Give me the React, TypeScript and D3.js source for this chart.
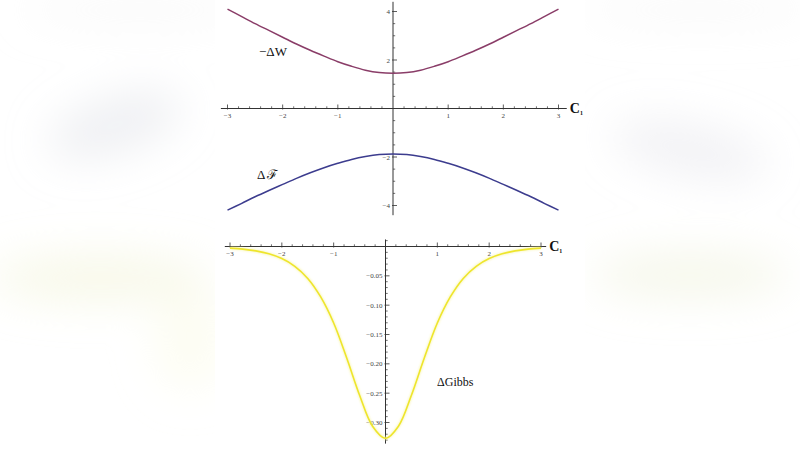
import * as d3 from "d3";

// sample positions for all curves
const cValues = [
  -3, -2.75, -2.5, -2.25, -2, -1.75, -1.5, -1.25, -1, -0.75, -0.5, -0.25, 0,
  0.25, 0.5, 0.75, 1, 1.25, 1.5, 1.75, 2, 2.25, 2.5, 2.75, 3,
];
// -ΔW (upper curve, top panel)
const minusDW = [
  4.1, 3.8, 3.5, 3.22, 2.94, 2.66, 2.4, 2.16, 1.93, 1.74, 1.58, 1.48, 1.45,
  1.48, 1.58, 1.74, 1.93, 2.16, 2.4, 2.66, 2.94, 3.22, 3.5, 3.8, 4.1,
];
// ΔF (lower curve, top panel)
const deltaF = [
  -4.19, -3.92, -3.64, -3.38, -3.13, -2.88, -2.65, -2.44, -2.26, -2.1, -1.98,
  -1.9, -1.88, -1.9, -1.98, -2.1, -2.26, -2.44, -2.65, -2.88, -3.13, -3.38,
  -3.64, -3.92, -4.19,
];
// ΔGibbs (bottom panel)
const deltaGibbs = [
  -0.0027, -0.0045, -0.0075, -0.0125, -0.0206, -0.0337, -0.0544, -0.086,
  -0.1304, -0.1895, -0.2534, -0.3063, -0.327, -0.3063, -0.2534, -0.1895,
  -0.1304, -0.086, -0.0544, -0.0337, -0.0206, -0.0125, -0.0075, -0.0045,
  -0.0027,
];

const topXTicks = [-3, -2, -1, 1, 2, 3];
const topYTicks = [-4, -2, 2, 4];
const botYTicks = [-0.05, -0.1, -0.15, -0.2, -0.25, -0.3];

const W = 800;
const H = 450;
const tickFont = "'Liberation Serif', 'DejaVu Serif', serif";
const axisColor = "#333";

type Pt = [number, number];

function fmt(v: number, digits: number) {
  const s = Math.abs(v).toFixed(digits);
  return (v < 0 ? "\u2212" : "") + s;
}

function XAxis({
  x,
  y0,
  from,
  to,
  labels,
}: {
  x: d3.ScaleLinear<number, number>;
  y0: number;
  from: number;
  to: number;
  labels: number[];
}) {
  const minor = d3.range(-3, 3.001, 0.2).filter((v) => Math.abs(v - Math.round(v)) > 0.01);
  return (
    <g>
      <line x1={x(from)} x2={x(to)} y1={y0} y2={y0} stroke={axisColor} strokeWidth={1} />
      {minor.map((v) => (
        <line key={"m" + v} x1={x(v)} x2={x(v)} y1={y0} y2={y0 - 2.2} stroke={axisColor} strokeWidth={0.7} />
      ))}
      {labels.map((v) => (
        <g key={v}>
          <line x1={x(v)} x2={x(v)} y1={y0 + 1} y2={y0 - 4} stroke={axisColor} strokeWidth={0.8} />
          <text x={x(v)} y={y0 + 9} fontSize={7} fontFamily={tickFont} fill="#444" textAnchor="middle">
            {fmt(v, 0)}
          </text>
        </g>
      ))}
      <text x={x(to) + 3} y={y0 + 4} fontSize={14} fontWeight="bold" fontFamily={tickFont} fill="#111">
        C
        <tspan fontSize={6} dy={2}>
          1
        </tspan>
      </text>
    </g>
  );
}

function YAxis({
  y,
  x0,
  from,
  to,
  labels,
  minorStep,
  digits,
}: {
  y: d3.ScaleLinear<number, number>;
  x0: number;
  from: number;
  to: number;
  labels: number[];
  minorStep: number;
  digits: number;
}) {
  const lo = Math.min(from, to);
  const hi = Math.max(from, to);
  const minor = d3
    .range(Math.ceil(lo / minorStep), Math.floor(hi / minorStep) + 1)
    .map((k) => k * minorStep)
    .filter((v) => Math.abs(v) > 1e-9 && !labels.some((l) => Math.abs(l - v) < 1e-9));
  return (
    <g>
      <line x1={x0} x2={x0} y1={y(from)} y2={y(to)} stroke={axisColor} strokeWidth={1} />
      {minor.map((v) => (
        <line key={"m" + v} x1={x0} x2={x0 + 2.2} y1={y(v)} y2={y(v)} stroke={axisColor} strokeWidth={0.7} />
      ))}
      {labels.map((v) => (
        <g key={v}>
          <line x1={x0 - 1} x2={x0 + 4} y1={y(v)} y2={y(v)} stroke={axisColor} strokeWidth={0.8} />
          <text x={x0 - 3} y={y(v) + 2.5} fontSize={7} fontFamily={tickFont} fill="#444" textAnchor="end">
            {fmt(v, digits)}
          </text>
        </g>
      ))}
    </g>
  );
}

export default function App() {
  // top panel scales
  const x1 = d3.scaleLinear().domain([-3, 3]).range([227.5, 558.5]);
  const y1 = d3.scaleLinear().domain([-4, 4]).range([205.5, 11.5]);
  // bottom panel scales
  const x2 = d3.scaleLinear().domain([-3, 3]).range([230, 541]);
  const y2 = d3.scaleLinear().domain([-0.3, 0]).range([422.5, 246.5]);

  const topLine = d3
    .line<Pt>()
    .x((d) => x1(d[0]))
    .y((d) => y1(d[1]))
    .curve(d3.curveCatmullRom);
  const botLine = d3
    .line<Pt>()
    .x((d) => x2(d[0]))
    .y((d) => y2(d[1]))
    .curve(d3.curveCatmullRom);

  const wPts: Pt[] = cValues.map((c, i) => [c, minusDW[i]]);
  const fPts: Pt[] = cValues.map((c, i) => [c, deltaF[i]]);
  const gPts: Pt[] = cValues.map((c, i) => [c, deltaGibbs[i]]);

  return (
    <svg
      width={W}
      height={H}
      style={{ position: "absolute", left: 0, top: 0, display: "block", background: "#fff" }}
    >
      <defs>
        <filter id="blur" x="-50%" y="-50%" width="200%" height="200%">
          <feGaussianBlur stdDeviation={22} />
        </filter>
        <filter id="glow" x="-10%" y="-10%" width="120%" height="120%">
          <feGaussianBlur stdDeviation={1} />
        </filter>
      </defs>
      {/* blurred backdrop on both sides */}
      <g filter="url(#blur)">
        <ellipse cx={115} cy={125} rx={70} ry={28} fill="#dcdde5" opacity={0.45} transform="rotate(-18 115 125)" />
        <ellipse cx={100} cy={278} rx={110} ry={22} fill="#f0f1cf" opacity={0.5} />
        <ellipse cx={190} cy={340} rx={35} ry={50} fill="#fcfce6" opacity={0.5} />
        <ellipse cx={690} cy={150} rx={80} ry={26} fill="#dedfe7" opacity={0.4} transform="rotate(12 690 150)" />
        <ellipse cx={690} cy={275} rx={100} ry={22} fill="#eeefd6" opacity={0.5} />
        <ellipse cx={140} cy={10} rx={120} ry={12} fill="#eeeeee" opacity={0.4} />
        <ellipse cx={700} cy={10} rx={120} ry={12} fill="#eeeeee" opacity={0.4} />
      </g>
      {/* white centre panel */}
      <rect x={215} y={0} width={370} height={H} fill="#fff" />

      {/* top panel */}
      <XAxis x={x1} y0={y1(0)} from={-3.12} to={3.15} labels={topXTicks} />
      <YAxis y={y1} x0={x1(0)} from={4.4} to={-4.4} labels={topYTicks} minorStep={0.5} digits={0} />
      <path d={topLine(wPts) ?? ""} fill="none" stroke="#8a3d68" strokeWidth={1.5} />
      <path d={topLine(fPts) ?? ""} fill="none" stroke="#3c3c8e" strokeWidth={1.5} />
      <text x={259} y={56} fontSize={13} fontFamily={tickFont} fill="#111">
        {"\u2212\u0394W"}
      </text>
      <text x={257} y={179} fontSize={13} fontFamily={tickFont} fill="#111">
        {"\u0394"}
        <tspan dx={2}>{"\u2131"}</tspan>
      </text>

      {/* bottom panel */}
      <XAxis x={x2} y0={y2(0)} from={-3.1} to={3.1} labels={topXTicks} />
      <YAxis y={y2} x0={x2(0)} from={0.012} to={-0.336} labels={botYTicks} minorStep={0.01} digits={2} />
      <path
        d={botLine(gPts) ?? ""}
        fill="none"
        stroke="#f8f5a8"
        strokeWidth={3}
        filter="url(#glow)"
        opacity={0.7}
      />
      <path d={botLine(gPts) ?? ""} fill="none" stroke="#eee52c" strokeWidth={1.6} />
      <text x={437} y={386} fontSize={12} fontFamily={tickFont} fill="#111">
        {"\u0394Gibbs"}
      </text>
    </svg>
  );
}
